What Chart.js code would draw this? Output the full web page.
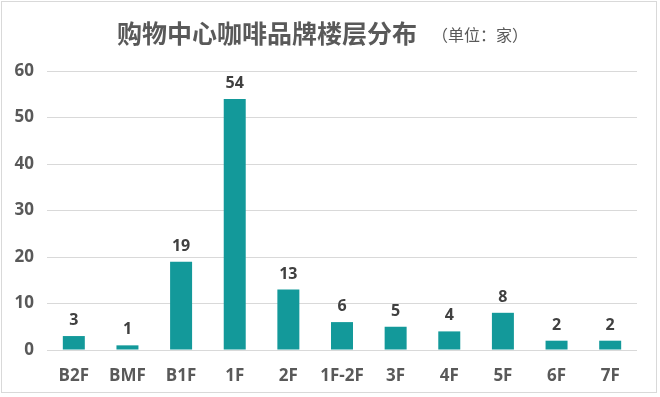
<!DOCTYPE html>
<html lang="zh">
<head>
    <meta charset="UTF-8">
    <title>购物中心咖啡品牌楼层分布</title>
    <style>
        html, body { margin: 0; padding: 0; background: #fff; }
        #wrap { width: 660px; height: 397px; position: relative; }
    </style>
</head>
<body>
    <div id="wrap"><canvas id="myChart"></canvas></div>

    <script src="https://cdn.jsdelivr.net/npm/chart.js"></script>
    <script>

const floors = ['B2F', 'BMF', 'B1F', '1F', '2F', '1F-2F', '3F', '4F', '5F', '6F', '7F'];
const brandCounts = [3, 1, 19, 54, 13, 6, 5, 4, 8, 2, 2];
const yTicks = [0, 10, 20, 30, 40, 50, 60];

const mainTitle = '购物中心咖啡品牌楼层分布';
const unitText = '（单位：家）';

const fontStack = '"Open Sans", "Noto Sans CJK SC", sans-serif';

// title, frame and value labels
const decorPlugin = {
    id: 'decor',
    beforeDraw(chart) {
        const ctx = chart.ctx;
        ctx.save();
        ctx.strokeStyle = '#d9d9d9';
        ctx.lineWidth = 1;
        ctx.strokeRect(1.5, 1.5, 655, 391);
        ctx.restore();
    },
    afterDraw(chart) {
        const ctx = chart.ctx;
        ctx.save();
        ctx.textBaseline = 'middle';
        ctx.textAlign = 'left';
        ctx.fillStyle = '#595959';
        ctx.font = 'bold 25px "Noto Sans CJK SC", sans-serif';
        ctx.fillText(mainTitle, 117, 33);
        ctx.font = '16px "Noto Sans CJK SC", sans-serif';
        ctx.fillText(unitText, 432, 35);

        // value labels
        ctx.font = 'bold 16px ' + fontStack;
        ctx.fillStyle = '#404040';
        ctx.textAlign = 'center';
        ctx.textBaseline = 'alphabetic';
        const meta = chart.getDatasetMeta(0);
        meta.data.forEach((bar, i) => {
            ctx.fillText(brandCounts[i], bar.x, bar.y - 11);
        });
        ctx.restore();
    }
};

const ctx = document.getElementById('myChart').getContext('2d');
new Chart(ctx, {
    type: 'bar',
    data: {
        labels: floors,
        datasets: [{
            data: brandCounts,
            backgroundColor: '#13999A',
            barPercentage: 0.41,
            categoryPercentage: 1.0
        }]
    },
    options: {
        responsive: true,
        maintainAspectRatio: false,
        animation: false,
        layout: {
            padding: { top: 71, right: 23, bottom: 0, left: 0 }
        },
        plugins: {
            legend: { display: false },
            title: { display: false },
            tooltip: { enabled: false }
        },
        scales: {
            x: {
                grid: { display: false },
                border: { display: false },
                ticks: {
                    color: '#595959',
                    font: { family: fontStack, size: 17, weight: 'bold' },
                    padding: 8,
                    maxRotation: 0,
                    autoSkip: false
                },
                afterFit(scale) { scale.height = 47; }
            },
            y: {
                min: 0,
                max: 60,
                afterBuildTicks(scale) {
                    scale.ticks = yTicks.map(v => ({ value: v }));
                },
                grid: { color: '#d9d9d9', drawTicks: false, lineWidth: 1 },
                border: { display: false },
                ticks: {
                    color: '#595959',
                    font: { family: fontStack, size: 17, weight: 'bold' },
                    padding: 13
                },
                afterFit(scale) { scale.width = 47; }
            }
        }
    },
    plugins: [decorPlugin]
});

    </script>
</body>
</html>
